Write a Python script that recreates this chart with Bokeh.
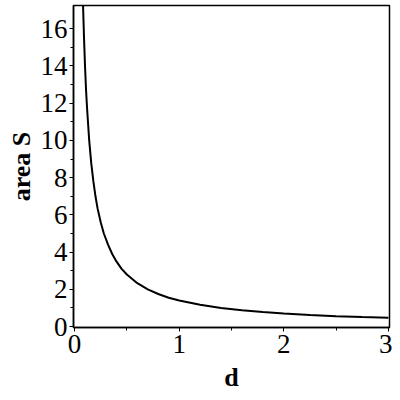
from bokeh.plotting import figure
from bokeh.models import FixedTicker, Range1d
from bokeh.embed import file_html
from bokeh.resources import INLINE

# values
d_vals = [0.08, 0.09, 0.10, 0.11, 0.12, 0.14, 0.16, 0.18, 0.20, 0.22, 0.25, 0.28,
          0.32, 0.36, 0.40, 0.45, 0.50, 0.60, 0.70, 0.80, 0.90, 1.00, 1.20, 1.40,
          1.60, 1.80, 2.00, 2.25, 2.50, 2.75, 3.00]
S_vals = [17.5, 15.6, 14.0, 12.7, 11.7, 10.0, 8.75, 7.8, 7.0, 6.35, 5.6, 5.0,
          4.4, 3.9, 3.5, 3.1, 2.8, 2.33, 2.0, 1.75, 1.55, 1.4, 1.17, 1.0,
          0.88, 0.78, 0.7, 0.62, 0.56, 0.51, 0.47]
x_ticks = [0, 1, 2, 3]
x_minor = [0.5, 1.5, 2.5]
y_ticks = [0, 2, 4, 6, 8, 10, 12, 14, 16]
y_minor = [1, 3, 5, 7, 9, 11, 13, 15]

FONT = "Liberation Serif"

p = figure(width=392, height=399,
           x_range=Range1d(-0.01, 3.01), y_range=Range1d(-0.05, 17.25),
           output_backend="svg", toolbar_location=None,
           min_border_left=73, min_border_top=5, min_border_right=3,
           min_border_bottom=72)

p.line(d_vals, S_vals, line_color="black", line_width=2)

p.grid.visible = False
p.outline_line_color = "black"
p.outline_line_width = 1.5
p.outline_line_alpha = 1.0
p.background_fill_color = "white"
p.border_fill_color = "white"

p.xaxis.ticker = FixedTicker(ticks=x_ticks, minor_ticks=x_minor)
p.yaxis.ticker = FixedTicker(ticks=y_ticks, minor_ticks=y_minor)
p.xaxis.axis_label = "d"
p.yaxis.axis_label = "area S"

for ax in (p.xaxis[0], p.yaxis[0]):
    ax.axis_line_color = "black"
    ax.axis_line_width = 1.5
    ax.major_tick_line_color = "black"
    ax.minor_tick_line_color = "black"
    ax.major_tick_in = 0
    ax.minor_tick_in = 0
    ax.major_tick_out = 4
    ax.minor_tick_out = 3
    ax.major_label_text_font = FONT
    ax.major_label_text_font_size = "27px"
    ax.major_label_text_color = "black"
    ax.axis_label_text_font = FONT
    ax.axis_label_text_font_size = "26px"
    ax.axis_label_text_font_style = "bold"
    ax.axis_label_text_color = "black"

p.yaxis.major_label_standoff = 2
p.yaxis.axis_label_standoff = 2
p.xaxis.major_label_standoff = 3
p.xaxis.axis_label_standoff = 7

open("out.html", "w").write(file_html(p, INLINE))
